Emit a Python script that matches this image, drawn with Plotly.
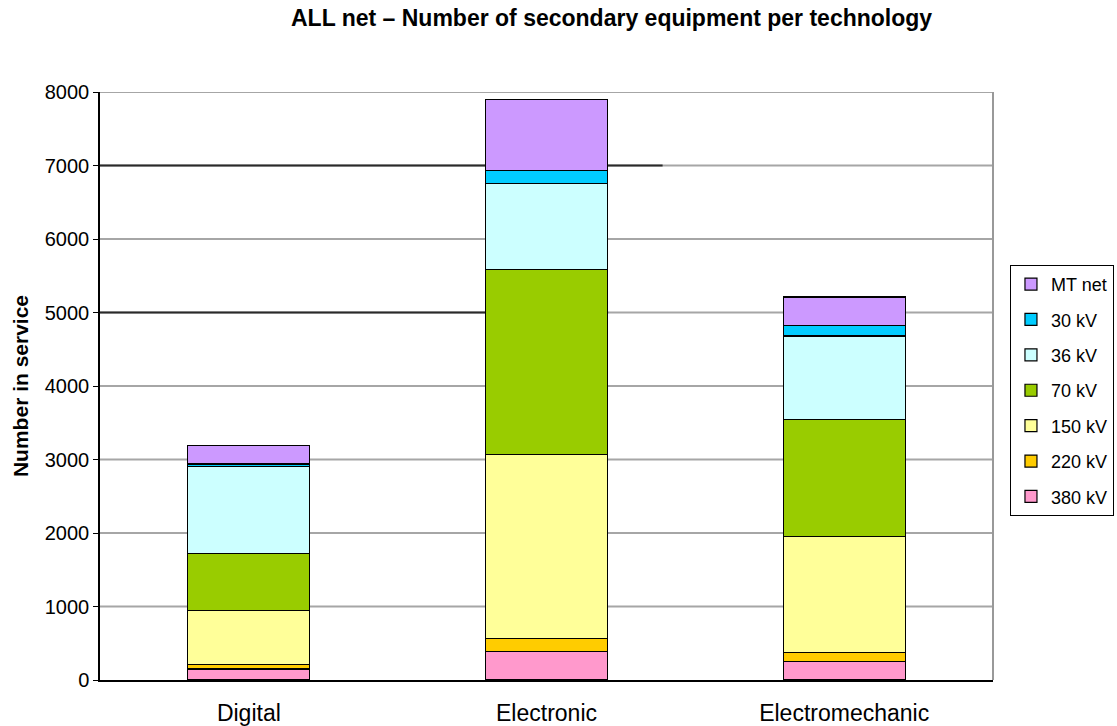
import plotly.graph_objects as go

# Technologies on the x axis
categories = ["Digital", "Electronic", "Electromechanic"]

# Number of secondary equipment in service, per voltage level (stack order bottom -> top)
series_names = ["380 kV", "220 kV", "150 kV", "70 kV", "36 kV", "30 kV", "MT net"]
kv380 = [150, 390, 250]
kv220 = [60, 170, 120]
kv150 = [740, 2510, 1580]
kv70 = [770, 2520, 1590]
kv36 = [1190, 1160, 1140]
kv30 = [30, 180, 140]
mt_net = [250, 970, 390]

series_values = [kv380, kv220, kv150, kv70, kv36, kv30, mt_net]
series_colors = ["#FF99CC", "#FFCC00", "#FFFF99", "#99CC00", "#CCFFFF", "#00CCFF", "#CC99FF"]

y_ticks = [0, 1000, 2000, 3000, 4000, 5000, 6000, 7000, 8000]

FONT = "Liberation Sans, Arial, sans-serif"

fig = go.Figure()
n = len(series_names)
for i, (name, vals, col) in enumerate(zip(series_names, series_values, series_colors)):
    fig.add_trace(go.Bar(
        x=categories, y=vals, name=name, legendgroup=name,
        legendrank=n - i,  # top of the stack listed first
        marker=dict(color=col, line=dict(color="#000000", width=1.2)),
    ))

# horizontal gridlines drawn as shapes below the bars
grid_shapes = [
    dict(type="line", xref="paper", yref="y", x0=0, x1=1, y0=v, y1=v,
         line=dict(color="#A6A6A6", width=2), layer="below")
    for v in y_ticks[1:]
]
# darker segments on the left part of the 5000 and 7000 lines
dark_segments = [
    dict(type="line", xref="paper", yref="y", x0=0, x1=0.569, y0=5000, y1=5000,
         line=dict(color="#2a2a2a", width=2), layer="below"),
    dict(type="line", xref="paper", yref="y", x0=0, x1=0.63, y0=7000, y1=7000,
         line=dict(color="#2a2a2a", width=2), layer="below"),
]

fig.update_layout(
    width=1117, height=726,
    barmode="stack", bargap=0.59,
    plot_bgcolor="white", paper_bgcolor="white",
    margin=dict(l=100, r=124, t=92, b=46, autoexpand=False),
    font=dict(family=FONT, size=20, color="#000000"),
    showlegend=True,
    legend=dict(
        traceorder="grouped", tracegroupgap=9,
        x=1.0190, xanchor="left", y=0.706, yanchor="top",
        bordercolor="#000000", borderwidth=1,
        font=dict(family=FONT, size=18),
        itemwidth=30,
    ),
    annotations=[
        dict(text="<b>ALL net \u2013 Number of secondary equipment per technology</b>",
             xref="paper", yref="paper", x=0.573, y=1, yshift=59,
             xanchor="center", yanchor="bottom", showarrow=False,
             font=dict(family=FONT, size=23)),
    ],
    shapes=grid_shapes + dark_segments + [
        dict(type="line", xref="paper", yref="paper", x0=1, x1=1, y0=0, y1=1,
             line=dict(color="#999999", width=2)),
    ],
)

fig.update_yaxes(
    range=[0, 8000], tickvals=y_ticks, ticktext=[str(v) for v in y_ticks],
    showgrid=False,
    showline=True, linecolor="#000000", linewidth=1.5,
    ticks="outside", ticklen=5, tickcolor="#000000",
    tickfont=dict(family=FONT, size=20),
    zeroline=False, automargin=False,
    title=dict(text="<b>Number in service</b>", font=dict(family=FONT, size=21), standoff=10),
)
fig.update_xaxes(
    showline=True, linecolor="#000000", linewidth=1.5,
    ticks="", tickfont=dict(family=FONT, size=23),
    ticklabelstandoff=12, automargin=False,
)

fig.write_html("out.html")
